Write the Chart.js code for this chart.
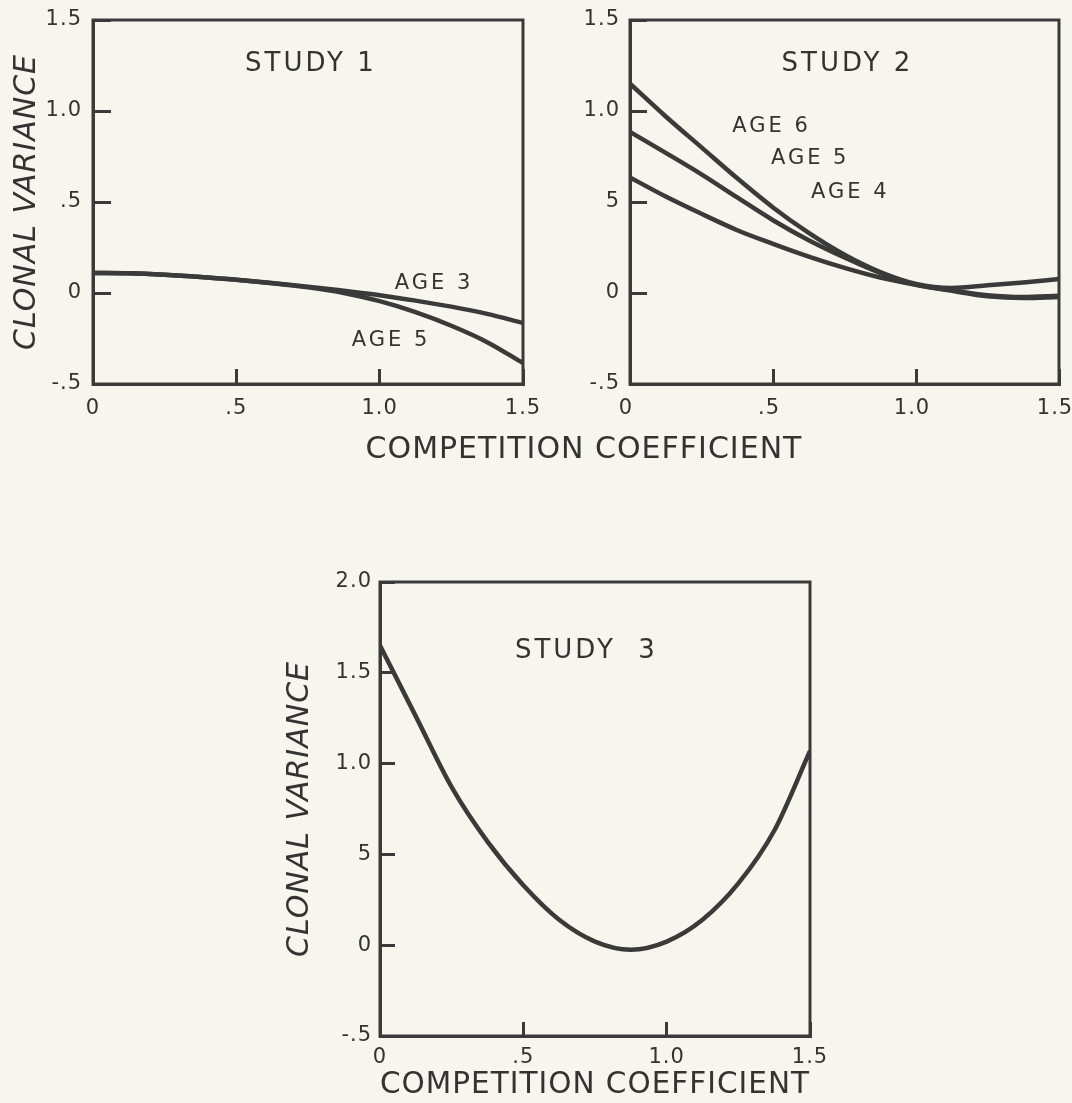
<!DOCTYPE html>
<html>
<head>
<meta charset="utf-8">
<script src="https://cdn.jsdelivr.net/npm/chart.js@4.4.1/dist/chart.umd.min.js"></script>
<style>
  html, body { margin: 0; padding: 0; background: #f6f6ee; }
  body { width: 1072px; height: 1103px; position: relative; overflow: hidden; }
  .panel { position: absolute; }
  .shared-title {
    position: absolute; left: 584px; top: 447px;
    transform: translate(-50%, -50%);
    font-family: 'DejaVu Sans', 'Liberation Sans', sans-serif;
    font-size: 30px; letter-spacing: 1px; color: #333333; white-space: nowrap;
  }
</style>
</head>
<body>
<div class="panel" style="left:0px;top:0px;width:545px;height:430px"><canvas id="study1"></canvas></div>
<div class="panel" style="left:545px;top:0px;width:540px;height:430px"><canvas id="study2"></canvas></div>
<div class="shared-title">COMPETITION COEFFICIENT</div>
<div class="panel" style="left:270px;top:540px;width:580px;height:563px"><canvas id="study3"></canvas></div>
<script>
// competition coefficient (x) where the curves were read
const coef = [0, 0.125, 0.25, 0.375, 0.5, 0.625, 0.75, 0.875, 1.0, 1.125, 1.25, 1.375, 1.5];

// clonal variance
const study1Age3 = [0.11, 0.108, 0.10, 0.088, 0.073, 0.055, 0.035, 0.012, -0.012, -0.042, -0.075, -0.115, -0.165];
const study1Age5 = [0.11, 0.108, 0.10, 0.088, 0.073, 0.054, 0.031, 0.0, -0.045, -0.105, -0.18, -0.27, -0.385];

const study2Age6 = [1.15, 0.97, 0.80, 0.63, 0.47, 0.33, 0.21, 0.115, 0.05, 0.028, 0.042, 0.058, 0.077];
const study2Age5 = [0.885, 0.77, 0.652, 0.525, 0.40, 0.29, 0.195, 0.11, 0.045, 0.015, -0.012, -0.022, -0.015];
const study2Age4 = [0.635, 0.53, 0.435, 0.345, 0.27, 0.2, 0.138, 0.085, 0.045, 0.012, -0.018, -0.028, -0.022];

const study3Curve = [1.65, 1.26, 0.87, 0.57, 0.33, 0.14, 0.02, -0.025, 0.02, 0.14, 0.34, 0.63, 1.07];

// tick labels as printed
const xTickLabels = ['0', '.5', '1.0', '1.5'];
const study1YLabels = ['-.5', '0', '.5', '1.0', '1.5'];
const study2YLabels = ['-.5', '0', '5', '1.0', '1.5'];
const study3YLabels = ['-.5', '0', '5', '1.0', '1.5', '2.0'];

// lettering inside the panels (data units)
const study1Notes = [
	{ text: 'STUDY 1', x: 0.76, y: 1.255, size: 26 },
	{ text: 'AGE 3', x: 1.19, y: 0.05, size: 21 },
	{ text: 'AGE 5', x: 1.04, y: -0.26, size: 21 }
];
const study2Notes = [
	{ text: 'STUDY 2', x: 0.76, y: 1.255, size: 26 },
	{ text: 'AGE 6', x: 0.495, y: 0.915, size: 21 },
	{ text: 'AGE 5', x: 0.63, y: 0.74, size: 21 },
	{ text: 'AGE 4', x: 0.77, y: 0.55, size: 21 }
];
const study3Notes = [
	{ text: 'STUDY  3', x: 0.72, y: 1.62, size: 26 }
];

const inkColor = '#3a3a3a';
const textColor = '#333333';
const fontFamily = "'DejaVu Sans', 'Liberation Sans', sans-serif";

const panelDecor = {
	id: 'panelDecor',
	beforeDraw(chart) {
		chart.ctx.letterSpacing = '1px';
	},
	afterDraw(chart, args, opts) {
		const ctx = chart.ctx;
		const a = chart.chartArea;
		ctx.save();
		ctx.strokeStyle = inkColor;
		ctx.lineWidth = 3;
		ctx.strokeRect(a.left, a.top, a.right - a.left, a.bottom - a.top);
		ctx.fillStyle = textColor;
		ctx.textAlign = 'center';
		ctx.textBaseline = 'middle';
		ctx.letterSpacing = '3px';
		(opts.notes || []).forEach(n => {
			ctx.font = n.size + 'px ' + fontFamily;
			ctx.fillText(n.text, chart.scales.x.getPixelForValue(n.x), chart.scales.y.getPixelForValue(n.y));
		});
		ctx.restore();
	}
};

// the ticks sit inside the frame, so the label overhang padding is not wanted
function dropPadding(s) {
	s.paddingTop = 0;
	s.paddingBottom = 0;
	s.paddingLeft = 0;
	s.paddingRight = 0;
}

function buildPanel(canvasId, lines, yLabels, yMax, notes, lay) {
	return new Chart(document.getElementById(canvasId), {
		type: 'line',
		data: {
			datasets: lines.map(s => ({
				label: s.label,
				data: coef.map((c, i) => ({ x: c, y: s.values[i] })),
				borderColor: inkColor,
				borderWidth: 4.5,
				pointRadius: 0,
				cubicInterpolationMode: 'monotone',
				fill: false
			}))
		},
		plugins: [panelDecor],
		options: {
			responsive: true,
			maintainAspectRatio: false,
			animation: false,
			layout: { padding: lay.padding },
			plugins: {
				legend: { display: false },
				tooltip: { enabled: false },
				panelDecor: { notes: notes }
			},
			scales: {
				x: {
					type: 'linear',
					min: 0,
					max: 1.5,
					afterFit: s => { s.height = lay.xHeight; dropPadding(s); },
					ticks: {
						stepSize: 0.5,
						autoSkip: false,
						maxRotation: 0,
						padding: lay.xTickPad,
						labelOffset: lay.xLabelShift || 0,
						color: textColor,
						font: { family: fontFamily, size: 21 },
						callback: (v, i) => xTickLabels[i]
					},
					grid: { drawOnChartArea: false, tickLength: -lay.xTickLen, tickWidth: 3, tickColor: inkColor },
					border: { color: inkColor, width: 3 },
					title: lay.xTitle ? {
						display: true,
						text: lay.xTitle,
						color: textColor,
						font: { family: fontFamily, size: 30 },
						padding: { top: 0, bottom: lay.xTitlePad }
					} : { display: false }
				},
				y: {
					type: 'linear',
					min: -0.5,
					max: yMax,
					afterFit: s => { s.width = lay.yWidth; dropPadding(s); },
					ticks: {
						stepSize: 0.5,
						autoSkip: false,
						padding: lay.yTickPad,
						color: textColor,
						font: { family: fontFamily, size: 21 },
						callback: (v, i) => yLabels[i]
					},
					grid: { drawOnChartArea: false, tickLength: -lay.yTickLen, tickWidth: 3, tickColor: inkColor },
					border: { color: inkColor, width: 3 },
					title: lay.yTitle ? {
						display: true,
						text: lay.yTitle,
						color: textColor,
						font: { family: fontFamily, size: 30, style: 'italic' },
						padding: { top: lay.yTitlePad, bottom: 0 }
					} : { display: false }
				}
			}
		}
	});
}

buildPanel('study1',
	[{ label: 'AGE 3', values: study1Age3 }, { label: 'AGE 5', values: study1Age5 }],
	study1YLabels, 1.5, study1Notes,
	{ padding: { left: 0, top: 20, right: 22, bottom: 0 }, yWidth: 93, xHeight: 46,
		xTickLen: 15, xTickPad: 27, yTickLen: 18, yTickPad: 29, yTitle: 'CLONAL VARIANCE', yTitlePad: 9 });

buildPanel('study2',
	[{ label: 'AGE 6', values: study2Age6 }, { label: 'AGE 5', values: study2Age5 }, { label: 'AGE 4', values: study2Age4 }],
	study2YLabels, 1.5, study2Notes,
	{ padding: { left: 0, top: 20, right: 26, bottom: 0 }, yWidth: 85, xHeight: 46,
		xTickLen: 15, xTickPad: 27, xLabelShift: -4, yTickLen: 17, yTickPad: 27 });

buildPanel('study3',
	[{ label: 'STUDY 3', values: study3Curve }],
	study3YLabels, 2.0, study3Notes,
	{ padding: { left: 0, top: 42, right: 40, bottom: 0 }, yWidth: 110, xHeight: 67,
		xTickLen: 14, xTickPad: 23, yTickLen: 15, yTickPad: 23,
		yTitle: 'CLONAL VARIANCE', yTitlePad: 12, xTitle: 'COMPETITION COEFFICIENT', xTitlePad: 0 });
</script>
</body>
</html>
